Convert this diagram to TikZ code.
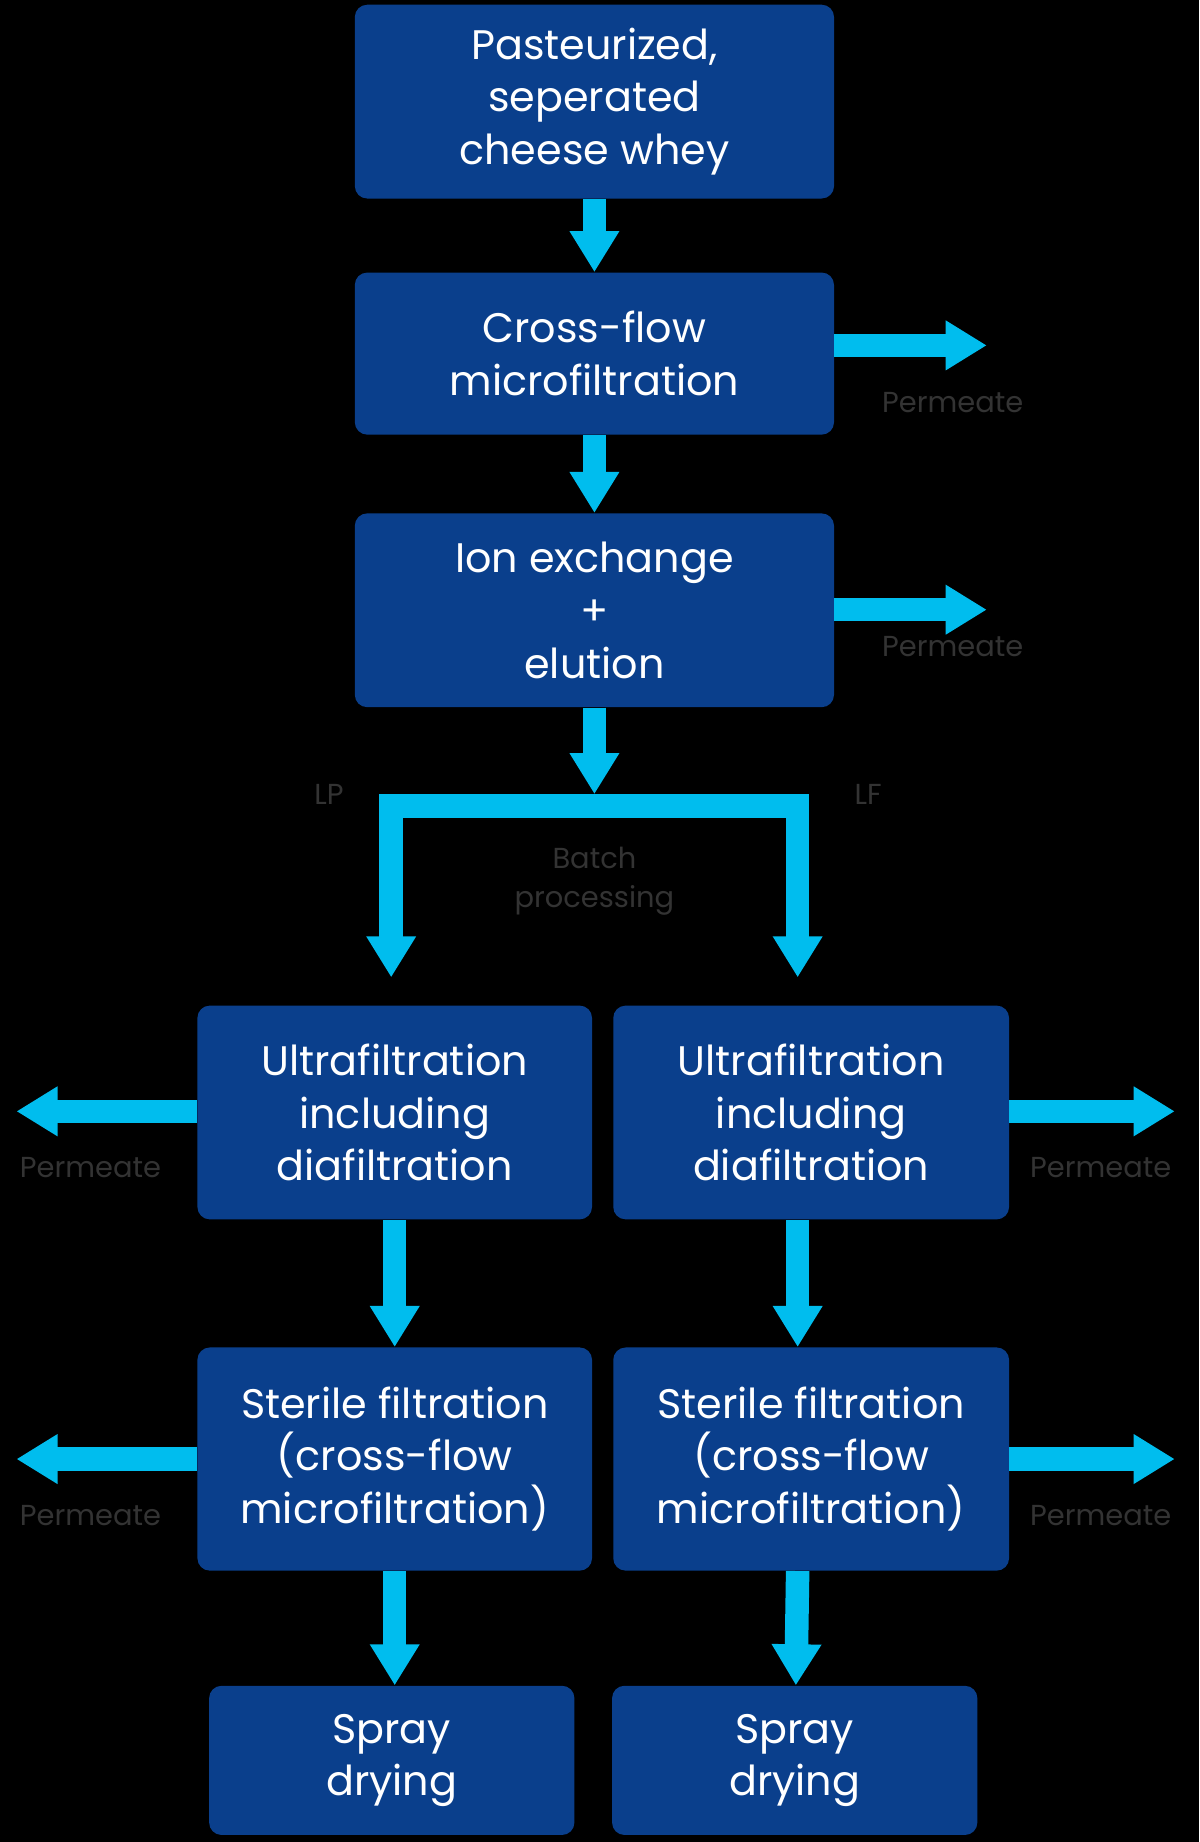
\documentclass[tikz,border=0pt]{standalone}
\usepackage{fontspec}
\setmainfont{Poppins}
\usetikzlibrary{arrows.meta}
\definecolor{boxblue}{HTML}{0A3F8C}
\definecolor{flowcyan}{HTML}{00BDEE}
\definecolor{labelgray}{HTML}{333333}
\tikzstyle{stage}=[draw=none,fill=boxblue,rounded corners=6pt,text=white,align=center,font=\fontsize{20}{25.5}\selectfont,inner sep=0pt]
\tikzstyle{note}=[text=labelgray,font=\fontsize{14}{17}\selectfont,align=center,inner sep=0pt]
\tikzstyle{flow}=[draw=flowcyan,line width=0.4cm,-{Triangle[width=0.8cm,length=0.7cm]}]
\tikzstyle{bar}=[draw=flowcyan,line width=0.4cm]

\begin{document}
\begin{tikzpicture}[x=0.02cm,y=-0.02cm]
		\fill[black] (0,0) rectangle (1021,1568);
		\useasboundingbox (0,0) rectangle (1021,1568);
			\node [stage,minimum width=8.16cm,minimum height=3.3cm] (whey) at (506,86.5) {Pasteurized,\\seperated\\cheese whey};
			\node [stage,minimum width=8.16cm,minimum height=2.76cm] (cfmf) at (506,301) {Cross-flow\\microfiltration};
			\node [stage,minimum width=8.16cm,minimum height=3.3cm] (ionex) at (506,519.5) {Ion exchange\\+\\elution};
			\node [stage,minimum width=6.72cm,minimum height=3.64cm] (ufL) at (336,947) {Ultrafiltration\\including\\diafiltration};
			\node [stage,minimum width=6.74cm,minimum height=3.64cm] (ufR) at (690.5,947) {Ultrafiltration\\including\\diafiltration};
			\node [stage,minimum width=6.72cm,minimum height=3.8cm] (sfL) at (336,1242) {Sterile filtration\\(cross-flow\\microfiltration)};
			\node [stage,minimum width=6.74cm,minimum height=3.8cm] (sfR) at (690.5,1242) {Sterile filtration\\(cross-flow\\microfiltration)};
			\node [stage,minimum width=6.22cm,minimum height=2.54cm] (sprayL) at (333.5,1498.5) {Spray\\drying};
			\node [stage,minimum width=6.22cm,minimum height=2.54cm] (sprayR) at (676.5,1498.5) {Spray\\drying};
			\coordinate (split) at (506,686);
			\coordinate (lpEnd) at (333,832);
			\coordinate (lfEnd) at (679,832);
			\coordinate (permA) at (840,294);
			\coordinate (permB) at (840,519);
			\coordinate (permC) at (14,946);
			\coordinate (permD) at (1000,946);
			\coordinate (permE) at (14,1242);
			\coordinate (permF) at (1000,1242);
			\node [note] (permAtxt) at (811,343) {Permeate};
			\node [note] (permBtxt) at (811,550) {Permeate};
			\node [note] (permCtxt) at (77,994) {Permeate};
			\node [note] (permDtxt) at (937,994) {Permeate};
			\node [note] (permEtxt) at (77,1290) {Permeate};
			\node [note] (permFtxt) at (937,1290) {Permeate};
			\node [note] (lp) at (280,676) {LP};
			\node [note] (lf) at (739,676) {LF};
			\node [note,font=\fontsize{14}{19}\selectfont] (batch) at (506,750) {Batch\\processing};
			\path [style=flow] (whey) -- (cfmf);
			\path [style=flow] (cfmf) -- (ionex);
			\path [style=flow] (cfmf.east |- permA) -- (permA);
			\path [style=flow] (ionex.east |- permB) -- (permB);
			\path [style=flow] (ionex) -- ([yshift=0.2cm]split);
			\path [style=bar] ([xshift=-0.2cm]split) -- ([xshift=0.2cm]split);
			\path [style=flow] (split) -| (lpEnd);
			\path [style=flow] (split) -| (lfEnd);
			\path [style=flow] (ufL.west |- permC) -- (permC);
			\path [style=flow] (ufR.east |- permD) -- (permD);
			\path [style=flow] (sfL.west |- permE) -- (permE);
			\path [style=flow] (sfR.east |- permF) -- (permF);
			\path [style=flow] (ufL) -- (sfL);
			\path [style=flow] ([xshift=-0.23cm]ufR.south) -- ([xshift=-0.23cm]sfR.north);
			\path [style=flow] (sfL) -- (sfL |- sprayL.north);
			\path [style=flow] ([xshift=-0.23cm]sfR.south) -- (sprayR);
\end{tikzpicture}
\end{document}
